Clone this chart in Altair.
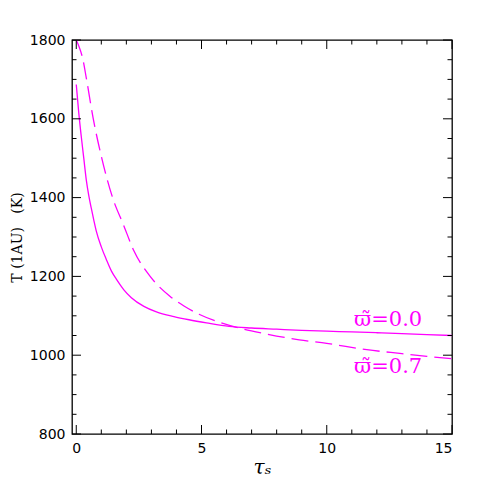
import altair as alt
import pandas as pd

# curve for albedo 0.0 (solid)
x_w00 = [0, 0.1, 0.2, 0.3, 0.4, 0.5, 0.6, 0.7, 0.8, 1.0, 1.2, 1.4, 1.6, 1.9, 2.2, 2.7,
         3.2, 3.9, 4.5, 5.2, 6.1, 7, 8, 9, 10, 11, 12, 13, 14, 15]
t_w00 = [1687, 1615, 1555, 1500, 1445, 1405, 1373, 1343, 1315, 1275, 1243, 1214, 1193, 1166,
         1146, 1124, 1110, 1098, 1090, 1082, 1073, 1069, 1066, 1063, 1061, 1059, 1057, 1055,
         1052, 1050]
# curve for albedo 0.7 (dashed)
x_w07 = [0, 0.1, 0.25, 0.4, 0.67, 1.0, 1.45, 1.89, 2.3, 2.95, 3.75, 4.3, 4.9, 5.7, 6.5,
         7.5, 8.9, 10, 11.6, 13, 14, 15]
t_w07 = [1800, 1785, 1755, 1704, 1603, 1505, 1400, 1330, 1265, 1200, 1149, 1125, 1104,
         1084, 1069, 1055, 1039, 1030, 1014, 1004, 997, 991]

label_x = [12.45, 12.45]
label_y = [1090, 971]
label_text = ["ϖ̃=0.0", "ϖ̃=0.7"]

x_major = [0, 5, 10, 15]
x_minor = [v for v in range(0, 16) if v % 5 != 0]
y_major = [800, 1000, 1200, 1400, 1600, 1800]
y_minor = [v for v in range(850, 1800, 50) if v % 200 != 0]

W, H = 380, 394
MAG = "#ff00ff"

xs = alt.Scale(domain=[-0.17, 15], nice=False, zero=False)
ys = alt.Scale(domain=[800, 1800], nice=False, zero=False)

df0 = pd.DataFrame({"x": x_w00, "t": t_w00})
df7 = pd.DataFrame({"x": x_w07, "t": t_w07})
dlab = pd.DataFrame({"x": label_x, "t": label_y, "s": label_text})

xaxis = alt.Axis(values=x_major, format="d", tickSize=0, domain=False, grid=False,
                 labelFontSize=14, labelFont="DejaVu Sans", labelColor="black",
                 labelPadding=7, title="τₛ", titleFontSize=20, titleFont="DejaVu Serif",
                 titleFontStyle="italic", titleFontWeight="normal", titlePadding=2,
                 titleColor="black")
yaxis = alt.Axis(values=y_major, format="d", tickSize=0, domain=False, grid=False,
                 labelFontSize=14, labelFont="DejaVu Sans", labelColor="black",
                 labelPadding=7, title="T\u00a0(1AU)\u00a0\u00a0\u00a0(K)", titleFontSize=14,
                 titleFont="DejaVu Serif", titleFontWeight="normal", titlePadding=5,
                 titleColor="black")

solid = alt.Chart(df0).mark_line(color=MAG, strokeWidth=1.3, interpolate="monotone").encode(
    x=alt.X("x:Q", scale=xs, axis=xaxis),
    y=alt.Y("t:Q", scale=ys, axis=yaxis),
)
dashed = alt.Chart(df7).mark_line(color=MAG, strokeWidth=1.3, strokeDash=[17, 7],
                                  interpolate="monotone").encode(
    x=alt.X("x:Q", scale=xs), y=alt.Y("t:Q", scale=ys))
labels = alt.Chart(dlab).mark_text(color=MAG, fontSize=21, font="DejaVu Serif",
                                   baseline="middle", align="center").encode(
    x=alt.X("x:Q", scale=xs), y=alt.Y("t:Q", scale=ys), text="s:N")

def xticks(vals, length):
    d = pd.DataFrame({"x": vals})
    b = alt.Chart(d).mark_rule(color="black", strokeWidth=1).encode(
        x=alt.X("x:Q", scale=xs), y=alt.value(H), y2=alt.value(H - length))
    t = alt.Chart(d).mark_rule(color="black", strokeWidth=1).encode(
        x=alt.X("x:Q", scale=xs), y=alt.value(0), y2=alt.value(length))
    return [b, t]

def yticks(vals, length):
    d = pd.DataFrame({"t": vals})
    l = alt.Chart(d).mark_rule(color="black", strokeWidth=1).encode(
        y=alt.Y("t:Q", scale=ys), x=alt.value(0), x2=alt.value(length))
    r = alt.Chart(d).mark_rule(color="black", strokeWidth=1).encode(
        y=alt.Y("t:Q", scale=ys), x=alt.value(W), x2=alt.value(W - length))
    return [l, r]

layers = [solid, dashed, labels] + xticks(x_major, 9) + xticks(x_minor, 4.5) \
    + yticks(y_major, 9) + yticks(y_minor, 4.5)

chart = alt.layer(*layers).properties(
    width=W, height=H, autosize=alt.AutoSizeParams(type="none"),
    padding={"left": 64, "top": 32, "right": 20, "bottom": 45},
    background="white",
).configure_view(stroke="black", strokeWidth=1.3)

chart.save("out.html", embed_options={"renderer": "svg", "actions": False})
